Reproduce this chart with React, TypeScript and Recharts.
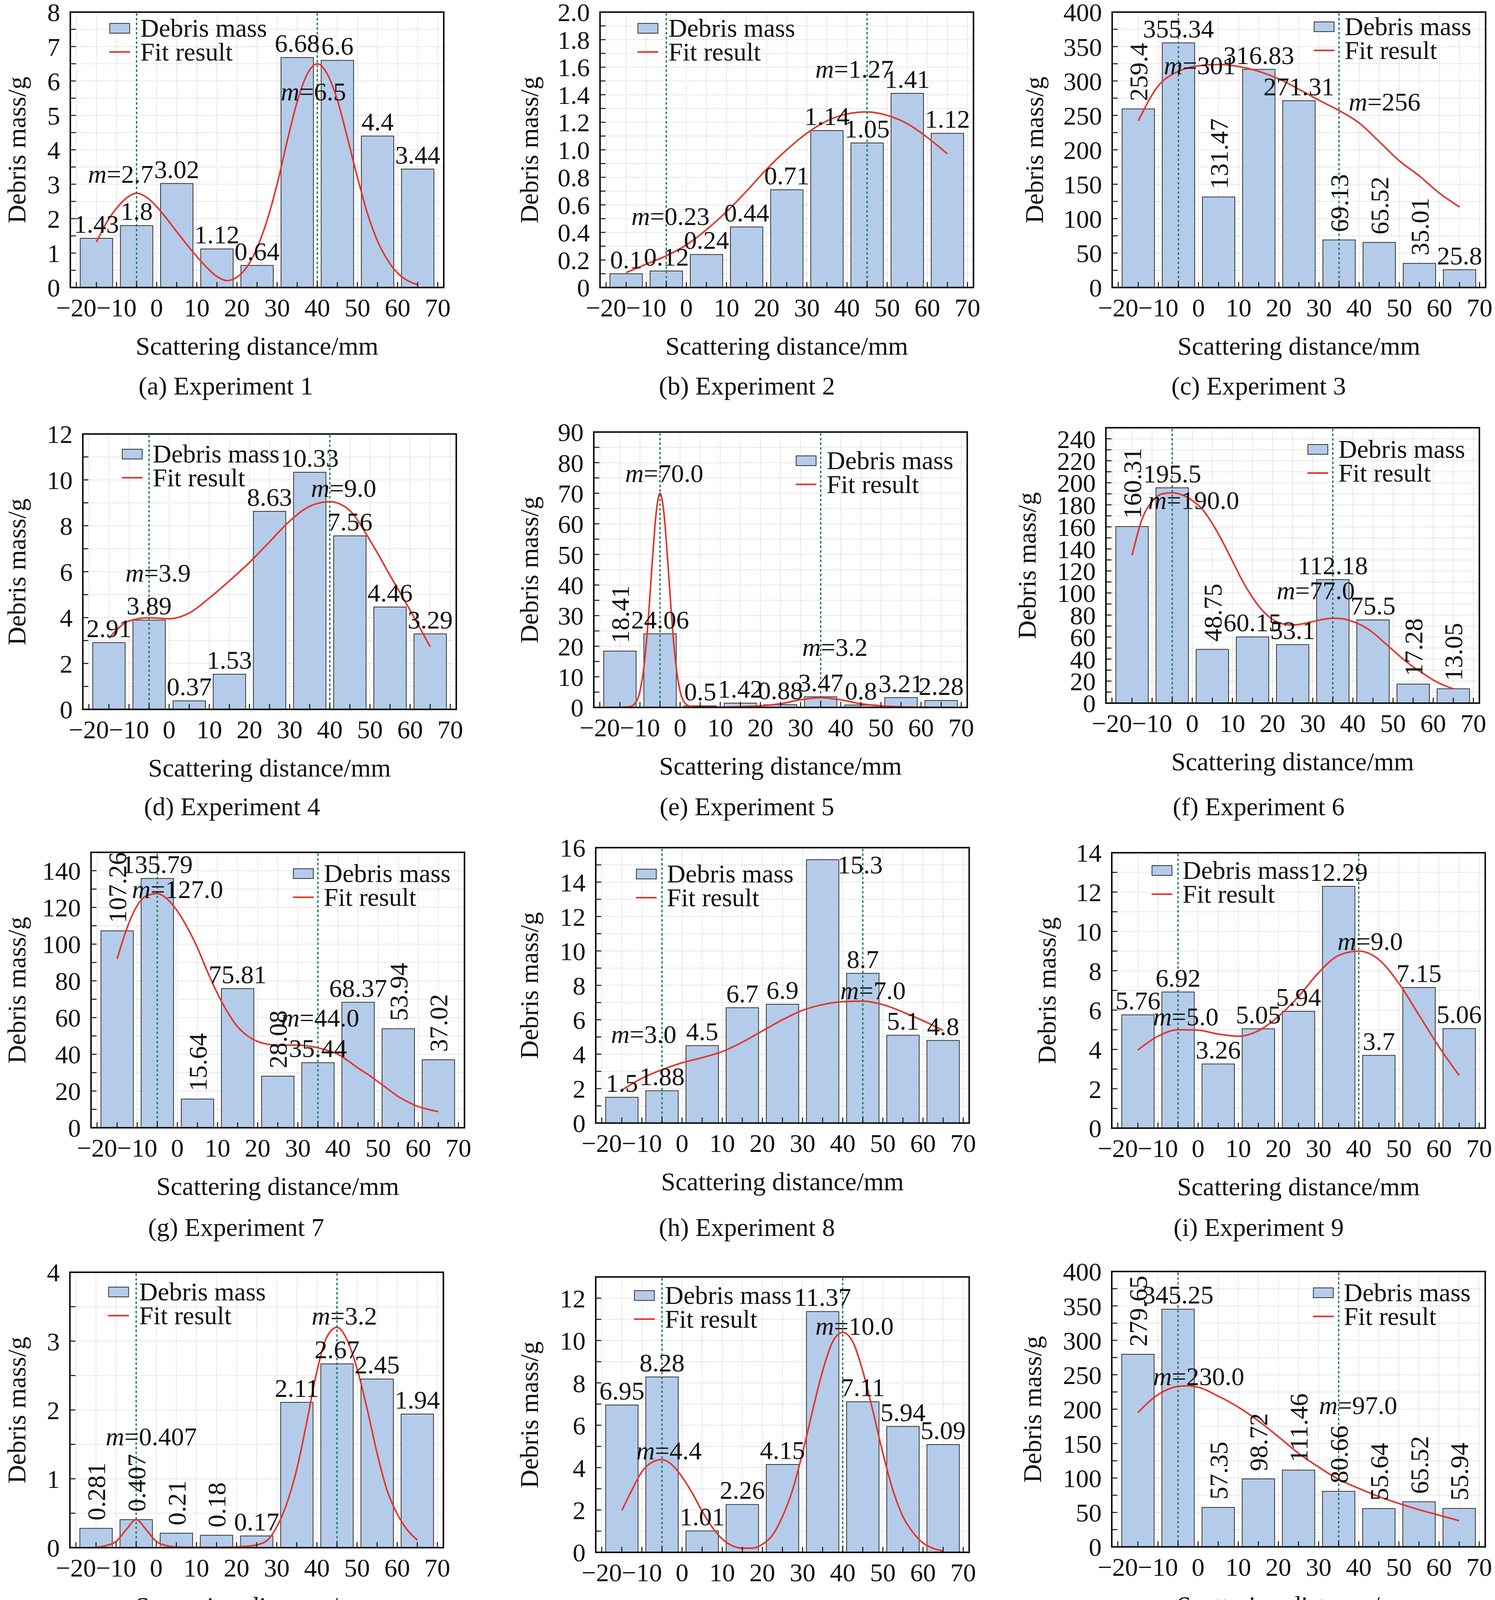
import React from "react";
import {
    Bar,
    CartesianGrid,
    ComposedChart,
    LabelList,
    Line,
    ReferenceDot,
    ReferenceLine,
    XAxis,
    YAxis,
} from "recharts";

const FONT = '"Liberation Serif", "Times New Roman", Times, serif';
const FS = 66;
const BAR_FILL = "#b4ccea";
const BAR_STROKE = "#333333";
const RED = "#e5332a";
const GREEN = "#1b7a4f";

// bin centres (mm) and x tick labels, shared by every experiment
const binCenters = [-15, -5, 5, 15, 25, 35, 45, 55, 65];
const xTickLabels = [-20, -10, 0, 10, 20, 30, 40, 50, 60, 70];

const mass1 = [1.43, 1.8, 3.02, 1.12, 0.64, 6.68, 6.6, 4.4, 3.44];
const mass2 = [0.1, 0.12, 0.24, 0.44, 0.71, 1.14, 1.05, 1.41, 1.12];
const mass3 = [259.4, 355.34, 131.47, 316.83, 271.31, 69.13, 65.52, 35.01, 25.8];
const mass4 = [2.91, 3.89, 0.37, 1.53, 8.63, 10.33, 7.56, 4.46, 3.29];
const mass5 = [18.41, 24.06, 0.5, 1.42, 0.88, 3.47, 0.8, 3.21, 2.28];
const mass6 = [160.31, 195.5, 48.75, 60.15, 53.1, 112.18, 75.5, 17.28, 13.05];
const mass7 = [107.26, 135.79, 15.64, 75.81, 28.08, 35.44, 68.37, 53.94, 37.02];
const mass8 = [1.5, 1.88, 4.5, 6.7, 6.9, 15.3, 8.7, 5.1, 4.8];
const mass9 = [5.76, 6.92, 3.26, 5.05, 5.94, 12.29, 3.7, 7.15, 5.06];
const mass10 = [0.281, 0.407, 0.21, 0.18, 0.17, 2.11, 2.67, 2.45, 1.94];
const mass11 = [6.95, 8.28, 1.01, 2.26, 4.15, 11.37, 7.11, 5.94, 5.09];
const mass12 = [279.65, 345.25, 57.35, 98.72, 111.46, 80.66, 55.64, 65.52, 55.94];
const mass13 = [1.25, 1.62, 0.43, 0.92, 1.67, 2.83, 1.85, 4.09, 3.57];
const mass14 = [56.42, 68.8, 9.49, 9.37, 10.21, 8.44, 6.24, 4.37, 4.02];
const mass15 = [0.72, 0.91, 0.65, 1.57, 1.69, 10.74, 15.24, 24.21, 20.37];
const mass16 = [40.72, 54.3, 6.21, 7.6, 6.01, 9, 9.98, 9.34, 7.51];
const mass17 = [1.09, 1.23, 0.56, 0.77, 1.26, 8.38, 17.74, 23.81, 20.5];
const mass18 = [3.82, 4.66, 0.62, 0.88, 2.8, 7.05, 6.22, 6.45, 5.61];

// fit curves as [x, y]
const fit1 = [[-15, 1.32], [-12.5, 1.88], [-10, 2.3], [-7.5, 2.6], [-5, 2.74], [-2.5, 2.62], [0, 2.35], [2.5, 2.0], [5, 1.62], [7.5, 1.25], [10, 0.9], [12.5, 0.58], [15, 0.32], [17.5, 0.2], [20, 0.3], [22.5, 0.6], [25, 1.15], [27.5, 1.95], [30, 3.0], [32.5, 4.25], [35, 5.4], [37.5, 6.2], [40, 6.5], [42.5, 6.2], [45, 5.45], [47.5, 4.35], [50, 3.2], [52.5, 2.15], [55, 1.35], [57.5, 0.8], [60, 0.42], [62.5, 0.2], [65, 0.08]];
const fit2 = [[-15, 0.108], [-10, 0.17], [-5, 0.23], [0, 0.31], [5, 0.42], [10, 0.55], [15, 0.7], [20, 0.86], [25, 1.0], [30, 1.12], [35, 1.21], [40, 1.26], [45, 1.275], [50, 1.25], [55, 1.19], [60, 1.09], [65, 0.97]];
const fit3 = [[-15, 242], [-10, 293], [-5, 314], [0, 322], [5, 324], [10, 321], [15, 314], [20, 303], [25, 288], [30, 272], [35, 257], [40, 239], [45, 212], [50, 184], [55, 162], [60, 137], [65, 117]];
const fit4 = [[-15, 3.1], [-10, 3.85], [-5, 3.99], [0, 3.95], [5, 4.2], [10, 4.85], [15, 5.6], [20, 6.4], [25, 7.3], [30, 8.2], [35, 8.85], [40, 9.05], [45, 8.66], [50, 7.37], [55, 5.84], [60, 4.32], [65, 2.73]];
const fit5 = [[-15, 0.05], [-12.5, 0.25], [-11, 1.7], [-10, 5.3], [-9, 13.4], [-8, 27.6], [-7, 46.3], [-6, 63.1], [-5, 70], [-4, 63.1], [-3, 46.3], [-2, 27.6], [-1, 13.4], [0, 5.3], [1, 1.8], [2.5, 0.4], [5, 0.12], [10, 0.1], [15, 0.25], [20, 0.5], [25, 1.2], [30, 2.5], [35, 3.2], [40, 2.5], [45, 1.2], [50, 0.5], [55, 0.2], [60, 0.08], [65, 0.03]];
const fit6 = [[-15, 134], [-12.5, 167], [-10, 183], [-7.5, 190], [-5, 191], [-2.5, 189], [0, 184], [2.5, 176], [5, 163], [7.5, 147], [10, 129], [12.5, 111], [15, 96], [17.5, 84], [20, 76], [22.5, 72], [25, 71], [27.5, 72], [30, 74], [32.5, 76], [35, 77], [37.5, 76.5], [40, 74], [42.5, 70], [45, 64], [47.5, 56], [50, 48], [52.5, 40], [55, 33], [57.5, 27], [60, 21], [62.5, 16.5], [65, 13]];
const fit7 = [[-15, 92], [-12.5, 109], [-10, 121], [-7.5, 126.5], [-5, 127.5], [-2.5, 124.5], [0, 118], [2.5, 109], [5, 98], [7.5, 85], [10, 73], [12.5, 63], [15, 55], [17.5, 50], [20, 47], [22.5, 45.5], [25, 45], [27.5, 45], [30, 45], [32.5, 44.5], [35, 43.5], [37.5, 42], [40, 40], [42.5, 36.5], [45, 32.5], [47.5, 29], [50, 25], [52.5, 21], [55, 17], [57.5, 14], [60, 11.5], [62.5, 10], [65, 8.7]];
const fit8 = [[-15, 1.92], [-10, 2.6], [-5, 3.1], [0, 3.5], [5, 3.8], [10, 4.15], [15, 4.7], [20, 5.35], [25, 6.0], [30, 6.55], [35, 6.88], [40, 7.05], [45, 7.08], [50, 6.88], [55, 6.45], [60, 5.95], [65, 5.38]];
const fit9 = [[-15, 3.97], [-10, 4.67], [-5, 5.0], [0, 4.98], [5, 4.78], [10, 4.67], [15, 4.95], [20, 5.68], [25, 6.69], [30, 7.9], [35, 8.78], [40, 9.0], [45, 8.57], [50, 7.36], [55, 5.75], [60, 4.13], [65, 2.68]];
const fit10 = [[-15, 0.005], [-12.5, 0.03], [-10, 0.09], [-7.5, 0.26], [-5, 0.407], [-2.5, 0.26], [0, 0.09], [2.5, 0.03], [5, 0.01], [10, 0.005], [15, 0.005], [20, 0.01], [22.5, 0.02], [25, 0.04], [27.5, 0.1], [30, 0.3], [32.5, 0.64], [35, 1.14], [37.5, 1.83], [40, 2.56], [42.5, 3.06], [45, 3.2], [47.5, 3.02], [50, 2.6], [52.5, 2.02], [55, 1.37], [57.5, 0.83], [60, 0.49], [62.5, 0.26], [65, 0.11]];
const fit11 = [[-15, 1.98], [-12.5, 2.94], [-10, 3.81], [-7.5, 4.25], [-5, 4.38], [-2.5, 4.13], [0, 3.56], [2.5, 2.81], [5, 1.94], [7.5, 1.19], [10, 0.63], [12.5, 0.31], [15, 0.2], [17.5, 0.2], [20, 0.38], [22.5, 0.81], [25, 1.69], [27.5, 2.94], [30, 4.69], [32.5, 6.69], [35, 8.56], [37.5, 9.94], [40, 10.38], [42.5, 9.94], [45, 8.56], [47.5, 6.69], [50, 4.69], [52.5, 2.94], [55, 1.69], [57.5, 0.94], [60, 0.44], [62.5, 0.19], [65, 0.06]];
const fit12 = [[-15, 195], [-10, 221], [-5, 233], [-2.5, 234], [0, 232], [5, 219], [10, 203], [15, 183], [20, 160], [25, 136], [30, 116], [35, 98], [40, 85], [45, 73], [50, 63], [55, 54], [60, 46], [65, 38]];
const fit13 = [[-15, 1.9], [-12.5, 2.13], [-10, 2.33], [-7.5, 2.42], [-5, 2.47], [0, 2.49], [5, 2.49], [10, 2.56], [15, 2.77], [20, 3.2], [25, 3.81], [30, 4.47], [35, 5.05], [40, 5.25], [45, 5.0], [50, 4.42], [55, 3.7], [60, 2.72], [65, 1.73]];
const fit14 = [[-15, 42], [-12.5, 78], [-10, 120], [-7.5, 153], [-5, 166], [-2.5, 153], [0, 118], [2.5, 78], [5, 42], [7.5, 18], [10, 7], [12.5, 2.5], [15, 1.5], [17.5, 2], [20, 3.5], [25, 7.5], [30, 10.5], [35, 11.2], [40, 10], [45, 7], [50, 3.8], [55, 1.6], [60, 0.6], [65, 0.2]];
const fit15 = [[-15, 0.63], [-10, 1.15], [-5, 1.73], [0, 2.44], [5, 3.45], [10, 4.9], [15, 6.76], [20, 8.77], [25, 10.93], [30, 13.37], [35, 15.82], [40, 17.83], [45, 19.56], [50, 20.56], [55, 20.94], [60, 20.56], [65, 19.47]];
const fit16 = [[-15, 41], [-12.5, 79], [-10, 118], [-7.5, 150], [-5, 160], [-2.5, 150], [0, 116], [2.5, 77], [5, 40], [7.5, 17], [10, 6], [12.5, 2.5], [15, 1.5], [17.5, 2.2], [20, 3.8], [25, 8], [30, 11.5], [35, 12.2], [40, 11], [45, 7.5], [50, 4], [55, 1.8], [60, 0.6], [65, 0.2]];
const fit17 = [[-15, 0.37], [-12.5, 0.75], [-10, 1.13], [-7.5, 1.4], [-5, 1.5], [-2.5, 1.35], [0, 1.0], [2.5, 0.7], [5, 0.5], [7.5, 0.42], [10, 0.56], [12.5, 0.85], [15, 1.41], [20, 2.97], [25, 4.94], [30, 7.34], [35, 9.75], [40, 11.44], [45, 12.06], [50, 11.1], [55, 9.0], [60, 6.5], [65, 4.1]];
const fit18 = [[-15, 1.51], [-10, 1.85], [-5, 2.18], [0, 2.6], [5, 3.09], [10, 3.58], [15, 4.03], [20, 4.44], [25, 4.82], [30, 5.12], [35, 5.27], [40, 5.28], [45, 5.08], [50, 4.71], [55, 4.26], [60, 3.73], [65, 3.22]];

// peak position (dotted line) and its m value
const peaks1 = [[-5, "2.7"], [40, "6.5"]];
const peaks2 = [[-5, "0.23"], [45, "1.27"]];
const peaks3 = [[-5, "301"], [35, "256"]];
const peaks4 = [[-5, "3.9"], [40, "9.0"]];
const peaks5 = [[-5, "70.0"], [35, "3.2"]];
const peaks6 = [[-5, "190.0"], [35, "77.0"]];
const peaks7 = [[-5, "127.0"], [35, "44.0"]];
const peaks8 = [[-5, "3.0"], [45, "7.0"]];
const peaks9 = [[-5, "5.0"], [40, "9.0"]];
const peaks10 = [[-5, "0.407"], [45, "3.2"]];
const peaks11 = [[-5, "4.4"], [40, "10.0"]];
const peaks12 = [[-5, "230.0"], [35, "97.0"]];
const peaks13 = [[-5, "2.4"], [40, "5.2"]];
const peaks14 = [[-5, "166.0"], [35, "11.0"]];
const peaks15 = [[-5, "1.5"], [55, "21.0"]];
const peaks16 = [[-5, "160.0"], [35, "13.0"]];
const peaks17 = [[-5, "1.4"], [45, "12.0"]];
const peaks18 = [[-5, "2.2"], [40, "5.3"]];

const yTicks1 = [0, 1, 2, 3, 4, 5, 6, 7, 8];
const yTicks2 = [0, 0.2, 0.4, 0.6, 0.8, 1.0, 1.2, 1.4, 1.6, 1.8, 2.0];
const yTicks3 = [0, 50, 100, 150, 200, 250, 300, 350, 400];
const yTicks4 = [0, 2, 4, 6, 8, 10, 12];
const yTicks5 = [0, 10, 20, 30, 40, 50, 60, 70, 80, 90];
const yTicks6 = [0, 20, 40, 60, 80, 100, 120, 140, 160, 180, 200, 220, 240];
const yTicks7 = [0, 20, 40, 60, 80, 100, 120, 140];
const yTicks8 = [0, 2, 4, 6, 8, 10, 12, 14, 16];
const yTicks9 = [0, 2, 4, 6, 8, 10, 12, 14];
const yTicks10 = [0, 1, 2, 3, 4];
const yTicks11 = [0, 2, 4, 6, 8, 10, 12];
const yTicks12 = [0, 50, 100, 150, 200, 250, 300, 350, 400];
const yTicks13 = [0, 1, 2, 3, 4, 5, 6];
const yTicks14 = [0, 20, 40, 60, 80, 100, 120, 140, 160, 180, 200];
const yTicks15 = [0, 5, 10, 15, 20, 25, 30];
const yTicks16 = [0, 20, 40, 60, 80, 100, 120, 140, 160, 180, 200];
const yTicks17 = [0, 5, 10, 15, 20, 25, 30];
const yTicks18 = [0, 1, 2, 3, 4, 5, 6, 7, 8];

const panels = [
    { cap: "(a) Experiment 1", row: 0, col: 0, mass: mass1, fit: fit1, peaks: peaks1, yTicks: yTicks1, yMax: 8, left: 180, dy: 0, yl: 43, leg: [100, 41], mPos: [[-17.1, 3.3], [30.9, 5.7]], rot: [] },
    { cap: "(b) Experiment 2", row: 0, col: 1, mass: mass2, fit: fit2, peaks: peaks2, yTicks: yTicks2, yMax: 2, dec: 1, left: 1536, dy: 0, yl: 1355, leg: [96, 41], mPos: [[-13.7, 0.52], [32.1, 1.59]], rot: [] },
    { cap: "(c) Experiment 3", row: 0, col: 2, mass: mass3, fit: fit3, peaks: peaks3, yTicks: yTicks3, yMax: 400, left: 2847, dy: 0, yl: 2648, leg: [516, 37], mPos: [[-8.6, 323], [37.4, 270]], rot: [0, 2, 5, 6, 7] },
    { cap: "(d) Experiment 4", row: 1, col: 0, mass: mass4, fit: fit4, peaks: peaks4, yTicks: yTicks4, yMax: 12, left: 212, dy: 3, yl: 43, leg: [100, 51], mPos: [[-10.9, 5.96], [35.3, 9.65]], rot: [] },
    { cap: "(e) Experiment 5", row: 1, col: 1, mass: mass5, fit: fit5, peaks: peaks5, yTicks: yTicks5, yMax: 90, left: 1520, dy: -2, yl: 1355, leg: [517, 73], mPos: [[-13.7, 76.6], [30.4, 19.8]], rot: [0] },
    { cap: "(f) Experiment 6", row: 1, col: 2, mass: mass6, fit: fit6, peaks: peaks6, yTicks: yTicks6, yMax: 250, left: 2831, dy: -13, yl: 2629, leg: [516, 55], mPos: [[-11, 184.6], [21, 102.4]], rot: [0, 2, 7, 8] },
    { cap: "(g) Experiment 7", row: 2, col: 0, mass: mass7, fit: fit7, peaks: peaks7, yTicks: yTicks7, yMax: 150, left: 233, dy: -3, yl: 43, leg: [517, 54], mPos: [[-11.3, 130], [25.8, 60]], rot: [0, 2, 4, 7, 8] },
    { cap: "(h) Experiment 8", row: 2, col: 1, mass: mass8, fit: fit8, peaks: peaks8, yTicks: yTicks8, yMax: 16, left: 1525, dy: -15, yl: 1355, leg: [103, 67], mPos: [[-17.7, 5.18], [39.4, 7.72]], rot: [], shift: { 5: [96, 49] } },
    { cap: "(i) Experiment 9", row: 2, col: 2, mass: mass9, fit: fit9, peaks: peaks9, yTicks: yTicks9, yMax: 14, left: 2846, dy: -2, yl: 2680, leg: [102, 45], mPos: [[-11.2, 5.68], [34.7, 9.52]], rot: [] },
    { cap: "(j) Experiment 10", row: 3, col: 0, mass: mass10, fit: fit10, peaks: peaks10, yTicks: yTicks10, yMax: 4, left: 179, dy: -5, yl: 43, leg: [98, 50], mPos: [[-12.6, 1.62], [38.7, 3.37]], rot: [0, 1, 2, 3] },
    { cap: "(k) Experiment 11", row: 3, col: 1, mass: mass11, fit: fit11, peaks: peaks11, yTicks: yTicks11, yMax: 13, left: 1525, dy: 7, yl: 1355, leg: [98, 47], mPos: [[-11.4, 4.81], [33.2, 10.7]], rot: [] },
    { cap: "(l) Experiment 12", row: 3, col: 2, mass: mass12, fit: fit12, peaks: peaks12, yTicks: yTicks12, yMax: 400, left: 2846, dy: -7, yl: 2643, leg: [515, 54], mPos: [[-11.2, 248], [30.1, 206]], rot: [0, 2, 3, 4, 5, 6, 7, 8] },
    { cap: "(m) Experiment 13", row: 4, col: 0, mass: mass13, fit: fit13, peaks: peaks13, yTicks: yTicks13, yMax: 6, left: 179, dy: 0, yl: 43, leg: [102, 46], mPos: [[-13.9, 2.71], [35.2, 5.48]], rot: [] },
    { cap: "(n) Experiment 14", row: 4, col: 1, mass: mass14, fit: fit14, peaks: peaks14, yTicks: yTicks14, yMax: 200, left: 1546, dy: 3, yl: 1355, leg: [513, 56], mPos: [[-10.8, 173.5], [23.5, 58.5]], rot: [0, 2, 3, 4, 5, 6, 7, 8] },
    { cap: "(o) Experiment 15", row: 4, col: 2, mass: mass15, fit: fit15, peaks: peaks15, yTicks: yTicks15, yMax: 30, left: 2831, dy: 3, yl: 2663, leg: [91, 55], mPos: [[-13.3, 7.33], [49.6, 18.26]], rot: [6, 8] },
    { cap: "(p) Experiment 16", row: 5, col: 0, mass: mass16, fit: fit16, peaks: peaks16, yTicks: yTicks16, yMax: 200, left: 241, dy: 3, yl: 43, leg: [506, 55], mPos: [[-10.1, 165.7], [25.8, 60.3]], rot: [0] },
    { cap: "(q) Experiment 17", row: 5, col: 1, mass: mass17, fit: fit17, peaks: peaks17, yTicks: yTicks17, yMax: 30, left: 1529, dy: 3, yl: 1355, leg: [99, 75], mPos: [[-10.5, 6.78], [35.2, 14.3]], rot: [4] },
    { cap: "(r) Experiment 18", row: 5, col: 2, mass: mass18, fit: fit18, peaks: peaks18, yTicks: yTicks18, yMax: 8, left: 2846, dy: 3, yl: 2708, leg: [95, 65], mPos: [[-10, 2.6], [31.4, 5.61]], rot: [] },
];

// layout (px)
const PW = 956;
const PH = 705;
const YW = 170;
const MT = 100;
const MR = 70;
const XH = 110;
const CW = YW + PW + MR;
const CH = MT + PH + XH;
const BW = 83;
const X_DOMAIN = [-21.5, 71.5];

function withMinors(majors, max) {
    const out = [];
    for (let i = 0; i < majors.length; i++) {
        out.push(majors[i]);
        const next = i + 1 < majors.length ? majors[i + 1] : majors[i] * 2 - majors[i - 1];
        const mid = (majors[i] + next) / 2;
        if (mid <= max + 1e-9) out.push(mid);
    }
    return out;
}

const xAllTicks = withMinors(xTickLabels, 70);
const xMajor = new Set(xTickLabels);
const fmtX = (v) => (xMajor.has(v) ? String(v).replace("-", "\u2212") : "");

const tickStyle = { fontSize: FS, fontFamily: FONT, fill: "#111" };
const tickLine = { stroke: "#111", strokeWidth: 2.5 };

const textBase = {
    position: "absolute",
    fontFamily: FONT,
    fontSize: FS,
    lineHeight: 1,
    color: "#111",
    whiteSpace: "nowrap",
};

function barLabel(rot, shift) {
    return (props) => {
        const vb = props.viewBox || props;
        const x = vb.x ?? props.x;
        const y = vb.y ?? props.y;
        const w = vb.width ?? props.width;
        const h = vb.height ?? props.height ?? 0;
        const idx = props.index;
        if (props.value == null || x == null) return null;
        const cx = x + w / 2;
        const top = Math.min(y, y + h);
        if (rot.includes(idx)) {
            const ty = top - 20;
            return (
                <text x={cx} y={ty} dy="0.35em" textAnchor="start" transform={`rotate(-90 ${cx} ${ty})`} fontSize={FS} fontFamily={FONT} fill="#111">
                    {String(props.value)}
                </text>
            );
        }
        const [dx, dyy] = (shift && shift[idx]) || [0, 0];
        return (
            <text x={cx + dx} y={top - 14 + dyy} textAnchor="middle" fontSize={FS} fontFamily={FONT} fill="#111">
                {String(props.value)}
            </text>
        );
    };
}

const mLabel = (txt) => (props) => {
    const vb = props.viewBox || {};
    return (
        <text x={vb.x} y={vb.y} dy="0.35em" fontSize={FS} fontFamily={FONT} fill="#111">
            <tspan fontStyle="italic">m</tspan>={txt}
        </text>
    );
};

function Panel({ p }) {
    const plotTop = 31 + p.row * 1077 + p.dy;
    const plotBottom = plotTop + PH;
    const bars = binCenters.map((x, i) => ({ x, m: p.mass[i] }));
    const fitData = p.fit.map(([x, y]) => ({ x, y }));
    const yMajor = new Set(p.yTicks);
    const yAll = withMinors(p.yTicks, p.yMax);
    const fmtY = (v) => {
        if (!yMajor.has(v)) return "";
        if (p.dec) return v === 0 ? "0" : v.toFixed(p.dec);
        return String(v);
    };
    const capX = p.col === 0 ? 578 + 0.5 * (p.left - 180) : p.col === 1 ? 1912 : 3222;
    const legX = p.left + p.leg[0];
    const legY = plotTop + p.leg[1];

    return (
        <>
            <div style={{ position: "absolute", left: p.left - YW, top: plotTop - MT }}>
                <ComposedChart width={CW} height={CH} data={bars} margin={{ top: MT, right: MR, left: 0, bottom: 0 }}>
                    <CartesianGrid stroke="#c6c6c6" strokeDasharray="2 3" strokeWidth={2} />
                    <XAxis xAxisId="bars" dataKey="x" type="number" domain={X_DOMAIN} allowDataOverflow hide />
                    <XAxis
                        dataKey="x"
                        type="number"
                        domain={X_DOMAIN}
                        allowDataOverflow
                        ticks={xAllTicks}
                        interval={0}
                        tickFormatter={fmtX}
                        tickSize={-14}
                        tickMargin={41}
                        axisLine={false}
                        tickLine={tickLine}
                        tick={tickStyle}
                        height={XH}
                    />
                    <YAxis
                        type="number"
                        domain={[0, p.yMax]}
                        allowDataOverflow
                        ticks={yAll}
                        interval={0}
                        tickFormatter={fmtY}
                        tickSize={-14}
                        tickMargin={40}
                        axisLine={false}
                        tickLine={tickLine}
                        tick={tickStyle}
                        width={YW}
                    />
                    <Bar xAxisId="bars" dataKey="m" barSize={BW} fill={BAR_FILL} stroke={BAR_STROKE} strokeWidth={2} isAnimationActive={false}>
                        <LabelList dataKey="m" content={barLabel(p.rot, p.shift)} />
                    </Bar>
                    <Line data={fitData} dataKey="y" type="monotone" stroke={RED} strokeWidth={4} dot={false} activeDot={false} isAnimationActive={false} />
                    {p.peaks.map(([x]) => (
                        <ReferenceLine key={"pk" + x} x={x} stroke={GREEN} strokeWidth={3.5} strokeDasharray="6 6" zIndex={450} />
                    ))}
                    {p.peaks.map(([, txt], i) => (
                        <ReferenceDot
                            key={"m" + i}
                            x={p.mPos[i][0]}
                            y={p.mPos[i][1]}
                            r={0}
                            fill="none"
                            stroke="none"
                            ifOverflow="visible"
                            zIndex={2100}
                            label={mLabel(txt)}
                        />
                    ))}
                </ComposedChart>
            </div>

            {/* frame */}
            <div style={{ position: "absolute", left: p.left - 2, top: plotTop - 2, width: PW + 4, height: PH + 4, border: "4px solid #111", boxSizing: "border-box" }} />

            {/* legend */}
            <div style={{ position: "absolute", left: legX, top: legY - 13.5, width: 53, height: 27, background: BAR_FILL, border: "2px solid #333", boxSizing: "border-box" }} />
            <div style={{ ...textBase, left: legX + 79, top: legY, transform: "translateY(-50%)" }}>Debris mass</div>
            <div style={{ position: "absolute", left: legX, top: legY + 61 - 2, width: 53, height: 4, background: RED }} />
            <div style={{ ...textBase, left: legX + 79, top: legY + 61, transform: "translateY(-50%)" }}>Fit result</div>

            <div style={{ ...textBase, left: p.yl, top: plotTop + PH / 2, transform: "translate(-50%, -50%) rotate(-90deg)" }}>Debris mass/g</div>
            <div style={{ ...textBase, left: p.left + PW / 2, top: plotBottom + 150, transform: "translate(-50%, -50%)" }}>Scattering distance/mm</div>
            <div style={{ ...textBase, left: capX, top: 988 + p.row * 1077, transform: "translate(-50%, -50%)" }}>{p.cap}</div>
        </>
    );
}

export default function App() {
    return (
        <div style={{ position: "absolute", left: 0, top: 0, width: 3827, height: 6411, background: "#fff", overflow: "hidden" }}>
            {panels.map((p) => (
                <Panel key={p.cap} p={p} />
            ))}
        </div>
    );
}
